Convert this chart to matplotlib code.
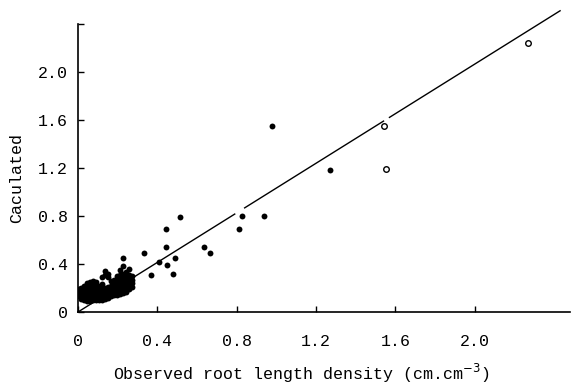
import numpy as np
import matplotlib.pyplot as plt

plt.rcParams['font.family'] = ['Liberation Mono', 'DejaVu Sans Mono']

# dense cluster near the origin (observed, calculated)
cluster = {
    0.005: [0.13, 0.16, 0.19],
    0.015: [0.11, 0.14, 0.17, 0.20],
    0.03: [0.10, 0.13, 0.16, 0.19, 0.22],
    0.045: [0.09, 0.12, 0.15, 0.18, 0.21, 0.24],
    0.06: [0.09, 0.12, 0.15, 0.18, 0.21, 0.25],
    0.075: [0.10, 0.13, 0.16, 0.19, 0.22, 0.26],
    0.09: [0.10, 0.13, 0.16, 0.19, 0.22, 0.25],
    0.105: [0.10, 0.13, 0.16, 0.19, 0.22],
    0.12: [0.10, 0.13, 0.16, 0.19, 0.23, 0.29],
    0.135: [0.11, 0.14, 0.17, 0.20, 0.31, 0.34],
    0.15: [0.12, 0.15, 0.18, 0.21, 0.29, 0.32],
    0.165: [0.13, 0.16, 0.19, 0.22, 0.26],
    0.18: [0.14, 0.17, 0.20, 0.23, 0.27],
    0.195: [0.14, 0.17, 0.20, 0.23, 0.26, 0.30],
    0.21: [0.15, 0.18, 0.21, 0.24, 0.27, 0.31, 0.35],
    0.225: [0.16, 0.19, 0.22, 0.25, 0.28, 0.32, 0.38, 0.45],
    0.24: [0.17, 0.20, 0.23, 0.26, 0.29, 0.33],
    0.255: [0.19, 0.22, 0.25, 0.28, 0.31, 0.36],
    0.27: [0.21, 0.24, 0.27, 0.30],
}
cl_obs = [x for x, ys in cluster.items() for _ in ys]
cl_calc = [y for ys in cluster.values() for y in ys]

# scattered filled points
obs_filled = [0.333, 0.368, 0.408, 0.442, 0.442, 0.447, 0.49, 0.48, 0.514,
              0.635, 0.667, 0.81, 0.826, 0.94, 0.98, 1.27]
calc_filled = [0.49, 0.31, 0.42, 0.69, 0.54, 0.39, 0.45, 0.32, 0.79,
               0.54, 0.49, 0.69, 0.80, 0.80, 1.55, 1.18]

# open circles
obs_open = [1.54, 1.55, 2.27]
calc_open = [1.55, 1.19, 2.24]

# regression line y = a*x, drawn in pieces (gaps as in the original)
slope = 1.033
line_pieces = [(0.0, 0.79), (0.84, 1.54), (1.57, 2.43)]

fig = plt.figure(figsize=(5.73, 3.91), dpi=100)
ax = fig.add_axes([78/573, 79/391, (570-78)/573, (312-24)/391])

for x0, x1 in line_pieces:
    xs = np.array([x0, x1])
    ax.plot(xs, slope * xs, color='black', lw=1.0, clip_on=False)

ax.scatter(cl_obs, cl_calc, s=18, color='black', linewidths=0)
ax.scatter(obs_filled, calc_filled, s=18, color='black', linewidths=0)
ax.scatter(obs_open, calc_open, s=16, facecolor='white', edgecolor='black',
           linewidths=1.0, zorder=3)

ax.set_xlim(0, 2.48)
ax.set_ylim(0, 2.4)
ax.set_xticks([0, 0.4, 0.8, 1.2, 1.6, 2.0])
ax.set_xticklabels(['0', '0.4', '0.8', '1.2', '1.6', '2.0'])
ax.set_yticks([0, 0.4, 0.8, 1.2, 1.6, 2.0, 2.4])
ax.set_yticklabels(['0', '0.4', '0.8', '1.2', '1.6', '2.0', ''])

ax.spines['top'].set_visible(False)
ax.spines['right'].set_visible(False)
ax.spines['left'].set_linewidth(1.2)
ax.spines['bottom'].set_linewidth(1.2)
ax.tick_params(axis='both', direction='in', length=4, width=1, labelsize=12)
ax.tick_params(axis='x', pad=16)
ax.tick_params(axis='y', pad=7)

ax.set_xlabel('Observed root length density (cm.cm$^{-3}$)', fontsize=12)
ax.xaxis.set_label_coords(0.453, -0.172)
ax.set_ylabel('Caculated', fontsize=12)
ax.yaxis.set_label_coords(-0.11, 0.465)

fig.savefig('out.png', dpi=100)
